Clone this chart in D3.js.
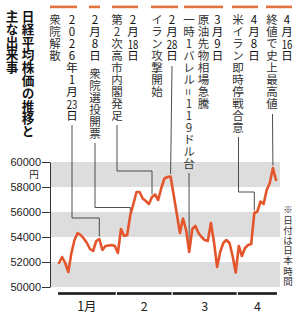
<!DOCTYPE html>
<html>
<head>
<meta charset="utf-8">
<script src="https://cdn.jsdelivr.net/npm/d3@7"></script>
<style>
  html, body { margin: 0; padding: 0; background: #fff; }
  svg { display: block; }
</style>
</head>
<body>
<svg id="chart" width="300" height="318"></svg>
<script>
// trading days, Jan 5 - Apr 17 2026
const tradingDates = [
  "2026-01-05","2026-01-06","2026-01-07","2026-01-08","2026-01-09","2026-01-13","2026-01-14","2026-01-15","2026-01-16",
  "2026-01-19","2026-01-20","2026-01-21","2026-01-22","2026-01-23","2026-01-26","2026-01-27","2026-01-28","2026-01-29","2026-01-30",
  "2026-02-02","2026-02-03","2026-02-04","2026-02-05","2026-02-06","2026-02-09","2026-02-10","2026-02-12","2026-02-13",
  "2026-02-16","2026-02-17","2026-02-18","2026-02-19","2026-02-20","2026-02-24","2026-02-25","2026-02-26","2026-02-27",
  "2026-03-02","2026-03-03","2026-03-04","2026-03-05","2026-03-06","2026-03-09","2026-03-10","2026-03-11","2026-03-12","2026-03-13",
  "2026-03-16","2026-03-17","2026-03-18","2026-03-19","2026-03-23","2026-03-24","2026-03-25","2026-03-26","2026-03-27","2026-03-30","2026-03-31",
  "2026-04-01","2026-04-02","2026-04-03","2026-04-06","2026-04-07","2026-04-08","2026-04-09","2026-04-10","2026-04-13","2026-04-14",
  "2026-04-15","2026-04-16","2026-04-17"
];

// closing price, yen
const closes = [
  51920, 52400, 51920, 51200, 52720, 53760, 54320, 54160, 53880,
  53520, 53040, 52880, 53680, 53840, 52960, 53280, 53320, 53360, 53280,
  52720, 54640, 54080, 54160, 55760, 56640, 57600, 57600, 57080,
  56880, 56640, 57200, 57400, 56960, 57920, 58680, 58800, 58840,
  57360, 55840, 54320, 55480, 54560, 52800, 54640, 54880, 54320, 54000,
  53760, 53680, 55120, 53600, 51600, 52800, 53520, 53760, 53520, 52480, 51160,
  53280, 52480, 53120, 53360, 53440, 55920, 56040, 56840, 56640, 57760,
  58320, 59520, 58560
];

const yTicks = [50000, 52000, 54000, 56000, 58000, 60000];
const shadedBands = [[50000, 52000], [54000, 56000], [58000, 60000]];
const monthLabels = ["1月", "2", "3", "4"];

const titleLines = ["日経平均株価の推移と", "主な出来事"];
const footNote = "※日付は日本時間";
const unitLabel = "円";

// [..] = two digits set side by side in one cell
const eventDates = ["2026-01-23", "2026-02-08", "2026-02-18", "2026-02-28", "2026-03-09", "2026-04-08", "2026-04-16"];
const eventDateLabels = ["2026年1月[23]日", "2月8日", "2月[18]日", "2月[28]日", "3月9日", "4月8日", "4月[16]日"];
const eventTexts = [
  ["衆院解散"],
  ["衆院選投開票"],
  ["第2次高市内閣発足"],
  ["イラン攻撃開始"],
  ["原油先物相場急騰", "一時1バレル=119ドル台"],
  ["米イラン即時停戦合意"],
  ["終値で史上最高値"]
];

// where each note sits (columns, orange cap, leader line)
const noteLayout = [
  { dateX: 72,    textX: [55],         textY: 14, bar: [50, 77],   lineX: 72,    lineY: 125, elbowY: 218 },
  { dateX: 95,    textX: [95],         textY: 68, bar: [89, 100],  lineX: 95,    lineY: 143, elbowY: 207.5 },
  { dateX: 133,   textX: [117],        textY: 14, bar: [112, 138], lineX: 117,   lineY: 125, elbowY: 171 },
  { dateX: 172,   textX: [157],        textY: 14, bar: [151, 178], lineX: 172,   lineY: 66,  elbowY: null },
  { dateX: 217.5, textX: [203.5, 189], textY: 14, bar: [184, 223], lineX: 189,   lineY: 173, elbowY: null },
  { dateX: 254,   textX: [238],        textY: 14, bar: [232, 258], lineX: 238.5, lineY: 137, elbowY: 192 },
  { dateX: 287,   textX: [272],        textY: 14, bar: [266, 292], lineX: 272.5, lineY: 114, elbowY: null }
];

const lineColor = "#e4552c";
const capColor = "#e27340";
const bandColor = "#dddddd";
const inkColor = "#222";
const cjkFont = "'Noto Sans CJK JP', 'Noto Sans', sans-serif";

let svg = d3.select("#chart");

let xScale = d3.scalePoint()
  .domain(tradingDates)
  .range([59, 276]);
let step = xScale.step();

let yScale = d3.scaleLinear()
  .domain([50000, 60000])
  .range([287, 162]);

// shaded bands
svg.selectAll(".band")
  .data(shadedBands)
  .enter()
  .append("rect")
  .attr("class", "band")
  .attr("x", 50)
  .attr("width", 230)
  .attr("y", d => yScale(d[1]))
  .attr("height", d => yScale(d[0]) - yScale(d[1]))
  .style("fill", bandColor);

// y axis
let yAxis = svg.append("g")
  .attr("transform", "translate(50,0)")
  .call(d3.axisLeft(yScale)
    .tickValues(yTicks)
    .tickSize(8)
    .tickSizeOuter(0)
    .tickPadding(1)
    .tickFormat(d3.format("d")));
yAxis.select(".domain").attr("stroke", "#333");
yAxis.selectAll(".tick line").attr("stroke", "#333");
yAxis.selectAll(".tick text")
  .attr("fill", inkColor)
  .style("font-family", "'Liberation Sans', Arial, sans-serif")
  .style("font-size", "11px");

// month bars below the plot
let months = d3.groups(tradingDates, d => +d.slice(5, 7));
months.forEach(function(m, i) {
  let first = m[1][0];
  let last = m[1][m[1].length - 1];
  let x1 = xScale(first) - step / 2 + 0.6;
  let x2 = xScale(last) + step / 2 - 0.6;
  svg.append("rect")
    .attr("x", x1)
    .attr("y", 292.2)
    .attr("width", x2 - x1)
    .attr("height", 2.6)
    .style("fill", "#1a1a1a");
  svg.append("text")
    .attr("x", (x1 + x2) / 2)
    .attr("y", 305.5)
    .text(monthLabels[i])
    .style("text-anchor", "middle")
    .style("dominant-baseline", "central")
    .style("font-family", cjkFont)
    .style("font-size", "12.5px")
    .style("fill", inkColor);
});

// vertical text: runs of plain characters go in one vertical text,
// paired digits and "=" get their own small horizontal text
function splitRuns(str) {
  let runs = [];
  let cur = "";
  let i = 0;
  while (i < str.length) {
    if (str[i] === "[" || str[i] === "=") {
      if (cur) { runs.push({ t: cur, kind: "run" }); cur = ""; }
      if (str[i] === "[") {
        let j = str.indexOf("]", i);
        runs.push({ t: str.slice(i + 1, j), kind: "pair" });
        i = j + 1;
      } else {
        runs.push({ t: "=", kind: "turn" });
        i++;
      }
    } else {
      cur += str[i];
      i++;
    }
  }
  if (cur) runs.push({ t: cur, kind: "run" });
  return runs;
}

function drawVertical(x, y0, str, size, advance, weight, color) {
  let y = y0;
  splitRuns(str).forEach(function(r) {
    let t = svg.append("text")
      .style("font-family", cjkFont)
      .style("font-size", size + "px")
      .style("font-weight", weight)
      .style("fill", color)
      .text(r.t);
    if (r.kind === "run") {
      t.attr("x", x)
        .attr("y", y)
        .style("writing-mode", "vertical-rl")
        .style("text-orientation", "upright")
        .style("letter-spacing", (advance - size) + "px");
      y += advance * r.t.length;
    } else {
      let cy = y + advance / 2;
      t.attr("x", x)
        .attr("y", cy)
        .style("text-anchor", "middle")
        .style("dominant-baseline", "central");
      if (r.kind === "pair") {
        t.attr("textLength", size * 0.92).attr("lengthAdjust", "spacingAndGlyphs");
      } else {
        t.attr("transform", "rotate(90," + x + "," + cy + ")");
      }
      y += advance;
    }
  });
  return y;
}

// unit under the top tick label
drawVertical(34, 170, unitLabel, 9.5, 9.5, "normal", inkColor);

// title
drawVertical(28, 10, titleLines[0], 12.6, 12.8, "bold", "#111");
drawVertical(12, 10, titleLines[1], 12.6, 12.8, "bold", "#111");

// foot note
drawVertical(288, 205, footNote, 9.5, 10.2, "normal", "#333");

// leader lines from each note to the price line
function lastTradingIndex(date) {
  let idx = 0;
  tradingDates.forEach(function(d, i) { if (d <= date) idx = i; });
  return idx;
}

eventDates.forEach(function(date, i) {
  let lay = noteLayout[i];
  let idx = lastTradingIndex(date);
  let tx = xScale(tradingDates[idx]);
  let ty = yScale(closes[idx]) - 2.5;
  let p = d3.path();
  p.moveTo(lay.lineX, lay.lineY);
  if (lay.elbowY !== null) {
    p.lineTo(lay.lineX, lay.elbowY);
    p.lineTo(tx, lay.elbowY);
    if (ty > lay.elbowY) p.lineTo(tx, ty);
  } else {
    p.lineTo(tx, ty);
  }
  svg.append("path")
    .attr("d", p.toString())
    .style("fill", "none")
    .style("stroke", "#3a3a3a")
    .style("stroke-width", 0.9);
});

// notes: orange cap, date column, text columns
eventDates.forEach(function(date, i) {
  let lay = noteLayout[i];
  svg.append("rect")
    .attr("x", lay.bar[0])
    .attr("y", 5.6)
    .attr("width", lay.bar[1] - lay.bar[0])
    .attr("height", 2.6)
    .style("fill", capColor);
  drawVertical(lay.dateX, 14, eventDateLabels[i], 11.5, 12, "normal", "#111");
  eventTexts[i].forEach(function(txt, k) {
    drawVertical(lay.textX[k], lay.textY, txt, 11.5, 12, "normal", "#333");
  });
});

// price line
let line = d3.line()
  .x((d, i) => xScale(tradingDates[i]))
  .y(d => yScale(d));

svg.append("path")
  .datum(closes)
  .attr("d", line)
  .style("fill", "none")
  .style("stroke", lineColor)
  .style("stroke-width", 2.6)
  .style("stroke-linejoin", "round")
  .style("stroke-linecap", "round");
</script>
</body>
</html>
